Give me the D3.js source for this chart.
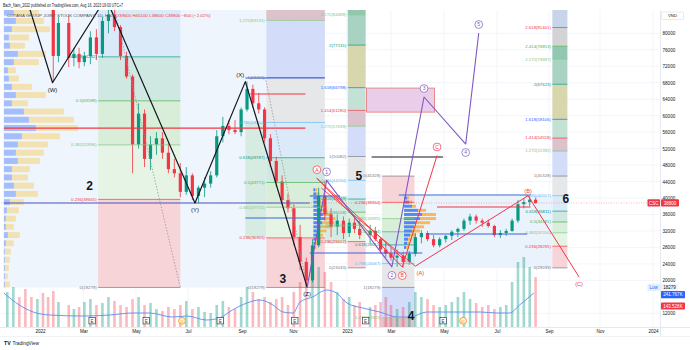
<!DOCTYPE html>
<html><head><meta charset="utf-8">
<script src="https://cdn.jsdelivr.net/npm/d3@7"></script>
<style>body{margin:0;background:#fff;}svg{display:block;font-family:"Liberation Sans",Arial,sans-serif;}</style>
</head><body><svg id="c" width="690" height="350"></svg>
<script>
// ---------------- DATA ----------------
const weekDates = ["2021-11-22","2021-11-29","2021-12-06","2021-12-13","2021-12-20","2021-12-27","2022-01-03","2022-01-10","2022-01-17","2022-01-24","2022-02-07","2022-02-14","2022-02-21","2022-02-28","2022-03-07","2022-03-14","2022-03-21","2022-03-28","2022-04-04","2022-04-11","2022-04-18","2022-04-25","2022-05-02","2022-05-09","2022-05-16","2022-05-23","2022-05-30","2022-06-06","2022-06-13","2022-06-20","2022-06-27","2022-07-04","2022-07-11","2022-07-18","2022-07-25","2022-08-01","2022-08-08","2022-08-15","2022-08-22","2022-08-29","2022-09-05","2022-09-12","2022-09-19","2022-09-26","2022-10-03","2022-10-10","2022-10-17","2022-10-24","2022-10-31","2022-11-07","2022-11-14","2022-11-21","2022-11-28","2022-12-05","2022-12-12","2022-12-19","2022-12-26","2023-01-02","2023-01-09","2023-01-16","2023-01-30","2023-02-06","2023-02-13","2023-02-20","2023-02-27","2023-03-06","2023-03-13","2023-03-20","2023-03-27","2023-04-03","2023-04-10","2023-04-17","2023-04-24","2023-05-01","2023-05-08","2023-05-15","2023-05-22","2023-05-29","2023-06-05","2023-06-12","2023-06-19","2023-06-26","2023-07-03","2023-07-10","2023-07-17","2023-07-24","2023-07-31","2023-08-07","2023-08-14"];
const opens  = [95000,97000,99500,98000,93500,90500,92000,88000,87000,74500,82500,74000,75000,73000,74500,79000,75000,83000,84500,81500,74500,69500,53000,60500,49500,53000,54500,51000,47000,46000,41500,45500,40500,42500,43500,45500,55000,57500,56500,56000,61500,66500,63000,61500,54500,49000,44000,39500,37500,30500,24500,20000,28500,40500,36000,33000,34500,31500,34000,32500,31000,32000,30000,27500,26500,25500,26000,24500,26500,30500,31500,30000,28500,30000,30800,31800,32500,34500,35500,34500,34000,33200,31000,31500,32000,34500,38500,39000,39600];
const highs  = [99000,101000,104000,100000,96000,94000,95000,90000,87500,84000,84500,76500,76500,75500,80500,81000,84000,87000,87500,82000,75500,70000,63000,61500,55000,56000,56000,53300,49500,48500,47500,46000,43000,45000,46500,56500,59700,59000,58900,62000,68300,67500,65500,62000,55500,50000,45500,41000,38500,33500,25500,30000,42500,44294,37500,36000,35500,35000,35500,34500,33500,33000,30500,29500,28000,27500,27000,27200,31500,32200,32000,31000,30500,31000,32200,32800,35000,36200,36000,35000,34800,33500,32200,32500,35000,39500,40000,40557,40100];
const lows   = [92000,94000,96000,92000,88000,87000,86500,86200,68200,73000,71800,72000,71500,72000,72500,73500,74000,80000,80500,73500,69000,46000,52000,47500,46800,50500,49500,46000,45000,40200,40800,39500,38800,40200,42500,45000,53500,55500,55500,55000,61000,62000,60500,53500,47500,42700,38500,36500,28500,22500,18279,19500,28000,34500,30500,31000,30000,30500,31500,30000,29000,29500,26500,25500,24800,23300,23033,23800,25800,29000,29500,28000,28000,29200,29800,30500,32000,33500,33800,33000,32800,30500,30300,30800,31800,34000,37500,38000,38600];
const closes = [97000,99500,98000,93500,90500,92000,88000,87000,74500,82500,74000,75000,73000,74500,79000,75000,83000,84500,81500,74500,69500,53000,60500,49500,53000,54500,51000,47000,46000,41500,45500,40500,42500,43500,45500,55000,57500,56500,56000,61500,66500,63000,61500,54500,49000,44000,39500,37500,30500,24500,20000,28500,40500,36000,33000,34500,31500,34000,32500,31000,32000,30000,27500,26500,25500,26000,24500,26500,30500,31500,30000,28500,30000,30800,31800,32500,34500,35500,34500,34000,33200,31000,31500,32000,34500,38500,39000,39600,38800];
const volumes = [35,40,30,38,30,28,34,30,36,25,22,18,20,25,28,22,24,30,26,22,20,28,30,22,24,18,16,20,18,22,26,18,20,15,14,22,26,20,18,30,40,35,28,30,25,28,30,22,35,45,55,50,60,55,45,35,28,30,22,25,20,22,25,30,22,18,20,25,35,30,28,22,20,22,25,30,35,28,24,20,22,18,20,22,45,65,70,60,50];

const volMaDates = ["2021-11-20","2021-12-08","2021-12-24","2022-01-14","2022-02-28","2022-04-01","2022-04-27","2022-05-17","2022-06-13","2022-06-30","2022-07-22","2022-08-06","2022-08-21","2022-09-07","2022-09-22","2022-10-08","2022-10-20","2022-11-01","2022-11-09","2022-11-23","2022-12-09","2022-12-20","2023-01-01","2023-01-22","2023-02-14","2023-03-08","2023-03-23","2023-04-11","2023-05-08","2023-06-12","2023-07-01","2023-07-16","2023-07-28","2023-08-14"];
const volMaValues = [34,22,15,12,11,12,14,14,10,11,7,9,17,24,27,22,15,14,25,30,37,34,24,19,15,10,10,15,15,15,14,14,22,34];

const xTickDates  = ["2022-01-01","2022-03-01","2022-05-01","2022-07-01","2022-09-01","2022-11-01","2023-01-01","2023-03-01","2023-05-01","2023-07-01","2023-09-01","2023-11-01","2024-01-01"];
const xTickLabels = ["2022","Mar","May","Jul","Sep","Nov","2023","Mar","May","Jul","Sep","Nov","2024"];
const priceTicks  = [12000,20000,24000,28000,32000,36000,40000,44000,48000,52000,56000,60000,64000,68000,72000,76000,80000];

// volume profiles (price rows, up volume, down volume)
const vpLeftPrices = [85000,83000,81000,79000,77000,75000,73000,71000,69000,67000,65000,63000,61000,59000,57000,55000,53000,51000,49000,47000,45000,43000,41000,39000,37000,35000,33000,31000,29000,27000,25000,23000,21000,19000];
const vpLeftUp   = [10,12,8,5,6,14,10,4,5,8,12,8,20,25,32,18,14,12,14,8,8,10,12,6,3,2,2,4,2,1,1,1,1,1];
const vpLeftDown = [25,28,38,20,15,28,25,8,10,20,30,16,40,45,42,38,30,28,22,18,16,20,22,14,12,10,8,12,8,6,5,4,3,5];
const vpDecPrices = [42000,41000,40000,39000,38000,37000,36000,35000,34000,33000,32000,31000,30000,29000,28000];
const vpDecUp   = [2,3,4,4,5,8,10,12,9,7,5,4,3,2,1];
const vpDecDown = [2,3,3,4,5,6,8,10,12,10,8,6,4,3,2];
const vpMarPrices = [40000,39000,38000,37000,36000,35000,34000,33000,32000,31000,30000,29000,28000];
const vpMarUp   = [3,5,8,14,18,16,12,10,8,6,4,3,2];
const vpMarDown = [2,3,4,8,14,16,14,10,8,6,4,3,3];

// Fibonacci drawings
const fibStart = ["2022-03-18","2022-09-30","2023-02-17","2023-01-02","2023-09-05"];
const fibEnd   = ["2022-06-22","2022-12-07","2023-03-28","2023-01-26","2023-09-23"];
const fibP0    = [18279,18279,45328,23033,23033];
const fibP1    = [108899,69263,18279,50082,45328];
const fibLevels = [
  [0,0.236,0.382,0.5,0.618,0.786],
  [0,0.236,0.382,0.5,0.618,0.786,1,1.272,1.414],
  [0,0.236,0.382,0.5,0.618,0.786,1,1.272,1.414],
  [0,0.236,0.382,0.5,0.618,0.786,1,1.272,1.414,1.618,2,2.272,2.414],
  [0,0.236,0.382,0.5,0.618,0.786,1,1.272,1.414,1.618,2,2.272,2.414,2.618,3.618]
];

// plain shaded rectangles
const rectStart = ["2021-11-20","2022-09-05","2022-11-29","2023-03-10","2023-01-27"];
const rectEnd   = ["2022-09-30","2022-09-30","2023-01-02","2023-09-05","2023-04-20"];
const rectTop   = [90000,58352,40500,40557,66700];
const rectBot   = [18279,30311,29000,23033,60860];
const rectKind  = ["pale","teal","teal","pale2","violet"];

// horizontal trend lines
const hlStart = ["2021-11-20","2021-11-20","2022-09-11","2022-09-05","2022-09-05","2022-11-20","2022-11-20","2023-04-11","2023-03-10","2023-04-23","2023-02-03"];
const hlEnd   = ["2022-11-20","2022-11-15","2022-11-15","2022-12-07","2022-11-28","2022-12-24","2023-04-06","2023-08-06","2023-08-10","2023-08-10","2023-04-30"];
const hlPrice = [38780,56980,65250,69140,35130,40490,26630,31250,40720,37810,49950];
const hlKind  = ["blue","red","red","blue","blue","blue","blue","blue","blue","red","black"];

// Elliott wave paths
const wxyDates  = ["2021-12-16","2022-01-18","2022-03-27","2022-07-09","2022-09-05","2022-11-17"];
const wxyPrices = [88700,68000,88600,38780,68262,18279];
const wxyLabels = ["","(W)","","(Y)","(X)","(Z)"];
const impDates  = ["2022-11-17","2022-12-09","2023-03-02","2023-04-08","2023-05-26","2023-06-10"];
const impPrices = [18279,44294,23280,64530,53110,80070];
const impLabels = ["","1","2","3","4","5"];
const abcDates  = ["2022-11-28","2023-03-14","2023-04-23"];
const abcPrices = [44800,23230,50330];
const abcLabels = ["A","B","C"];
const bigAbcDates  = ["2023-03-29","2023-08-07","2023-10-07"];
const bigAbcPrices = [23450,40560,20800];
const bigAbcLabels = ["(A)","(B)","(C)"];
const chanStart = ["2022-11-28","2022-12-03"];
const chanStartP = [44800,42420];
const chanEnd = ["2023-03-19","2023-03-29"];
const chanEndP = [24440,23450];
const dashStart = ["2022-04-04","2022-09-29"];
const dashStartP = [87550,69263];
const dashEnd = ["2022-06-22","2022-11-17"];
const dashEndP = [18279,18279];

// big wave count numbers
const bigNumText  = ["2","3","4","5","6"];
const bigNumDates = ["2022-03-08","2022-10-20","2023-03-24","2023-01-17","2023-09-21"];
const bigNumPrices = [43150,20560,11575,45580,40000];

// events
const earningsDates = ["2022-03-11","2022-05-13","2022-08-07","2022-11-03","2023-01-26","2023-04-30"];
const dividendDates = ["2022-06-24","2023-05-23"];

// ---------------- CHART ----------------
const W = 690, H = 350, PL = 1, PR = 660, PT = 10, PB = 327;
const parse = d3.utcParse("%Y-%m-%d");
const x = d3.scaleUtc()
  .domain(["2021-11-01", ...xTickDates].map(parse))
  .range([-12.5, 40, 83.5, 136, 188, 242, 293, 347, 391, 444, 497, 549, 600, 653]);
const y = d3.scaleLinear().domain([12000, 80000]).range([313.3, 33.3]);
const vy = d3.scaleLinear().domain([0, 100]).range([PB, PB - 100]);
const vpw = d3.scaleLinear().domain([0, 100]).range([0, 100]);
const X = s => x(parse(s));

const UP = "#089981", DN = "#f23645";
const bandColor = {0.236:"#f7d4d8",0.382:"#e6f4e5",0.5:"#d8eed8",0.618:"#cfe8e1",0.786:"#dbeaf9",1:"#e6e7e9",1.272:"#d3ddfa",1.414:"#dcc2cc",1.618:"#c3e2d5",2:"#d7d6ad",2.272:"#a8d3c2",2.414:"#92c7b1",2.618:"#d3d3d5",3.618:"#c8d4e7"};
const lineColor = {0:"#787b86",0.236:"#f23645",0.382:"#81c784",0.5:"#4caf50",0.618:"#089981",0.786:"#64b5f6",1:"#787b86",1.272:"#81c784",1.414:"#f23645",1.618:"#2962ff",2:"#089981",2.272:"#81c784",2.414:"#4caf50",2.618:"#f23645",3.618:"#9c27b0"};
const rectColor = {pale:"#eef5fc",pale2:"#eaf2fb",teal:"#d6ece3",violet:"#e9cde9"};
const hlColor = {blue:"#3a62d6",red:"#f23645",black:"#131722"};

const svg = d3.select("#c");
svg.append("rect").attr("width", W).attr("height", H).attr("fill", "#fff");
svg.append("defs").append("clipPath").attr("id", "clip")
  .append("rect").attr("x", PL).attr("y", PT).attr("width", PR - PL).attr("height", PB - PT);
const g = svg.append("g").attr("clip-path", "url(#clip)");

// grid
priceTicks.forEach(v => g.append("line").attr("x1", PL).attr("x2", PR).attr("y1", y(v)).attr("y2", y(v)).attr("stroke", "#f0f3fa").attr("stroke-width", 0.8));
xTickDates.forEach(d => g.append("line").attr("x1", X(d)).attr("x2", X(d)).attr("y1", PT).attr("y2", PB).attr("stroke", "#f0f3fa").attr("stroke-width", 0.8));

// shaded rects
rectStart.forEach((s, i) => {
  g.append("rect").attr("x", X(s)).attr("width", X(rectEnd[i]) - X(s))
    .attr("y", y(rectTop[i])).attr("height", y(rectBot[i]) - y(rectTop[i]))
    .attr("fill", rectColor[rectKind[i]])
    .attr("stroke", rectKind[i] === "violet" ? "#e57373" : "none").attr("stroke-width", 0.8);
});

// fib bands
const fibPrice = (i, l) => fibP0[i] + l * (fibP1[i] - fibP0[i]);
fibStart.forEach((s, i) => {
  const x1 = X(s), x2 = X(fibEnd[i]), L = fibLevels[i];
  for (let k = 1; k < L.length; k++) {
    const a = y(fibPrice(i, L[k - 1])), b = y(fibPrice(i, L[k]));
    g.append("rect").attr("x", x1).attr("width", x2 - x1)
      .attr("y", Math.min(a, b)).attr("height", Math.abs(b - a)).attr("fill", bandColor[L[k]]);
  }
});

// volume profiles
function drawVP(anchor, prices, up, down, step, upC, dnC) {
  const x0 = X(anchor);
  const h = Math.abs(y(0) - y(step)) * 0.72;
  prices.forEach((p, i) => {
    g.append("rect").attr("x", x0).attr("y", y(p) - h / 2).attr("width", vpw(up[i])).attr("height", h).attr("fill", upC);
    g.append("rect").attr("x", x0 + vpw(up[i])).attr("y", y(p) - h / 2).attr("width", vpw(down[i])).attr("height", h).attr("fill", dnC);
  });
}
drawVP("2021-11-20", vpLeftPrices, vpLeftUp, vpLeftDown, 2000, "rgba(41,98,255,0.38)", "rgba(251,192,45,0.36)");
drawVP("2022-11-24", vpDecPrices, vpDecUp, vpDecDown, 1000, "rgba(41,98,255,0.75)", "rgba(251,160,30,0.7)");
drawVP("2023-03-16", vpMarPrices, vpMarUp, vpMarDown, 1000, "rgba(41,98,255,0.75)", "rgba(251,160,30,0.7)");

// volume bars
const bw = 3.2, vbw = 2.6;
weekDates.forEach((d, i) => {
  const cx = x(d3.utcDay.offset(parse(d), 2));
  g.append("rect").attr("x", cx - vbw / 2).attr("width", vbw).attr("y", vy(volumes[i])).attr("height", vy(0) - vy(volumes[i]))
    .attr("fill", closes[i] >= opens[i] ? "rgba(8,153,129,0.38)" : "rgba(242,54,69,0.34)");
});
g.append("path").datum(volMaDates.map((d, i) => [X(d), vy(volMaValues[i])]))
  .attr("d", d3.line().curve(d3.curveMonotoneX)).attr("fill", "none").attr("stroke", "#5b8def").attr("stroke-width", 0.9);

// candles
weekDates.forEach((d, i) => {
  const cx = x(d3.utcDay.offset(parse(d), 2));
  const c = closes[i] >= opens[i] ? UP : DN;
  g.append("line").attr("x1", cx).attr("x2", cx).attr("y1", y(highs[i])).attr("y2", y(lows[i])).attr("stroke", c).attr("stroke-width", 0.8);
  const t = y(Math.max(opens[i], closes[i])), b = y(Math.min(opens[i], closes[i]));
  g.append("rect").attr("x", cx - bw / 2).attr("width", bw).attr("y", t).attr("height", Math.max(0.8, b - t)).attr("fill", c);
});

// fib level lines + labels
fibStart.forEach((s, i) => {
  const x1 = X(s), x2 = X(fibEnd[i]);
  fibLevels[i].forEach(l => {
    const p = fibPrice(i, l), yy = y(p);
    g.append("line").attr("x1", x1).attr("x2", x2).attr("y1", yy).attr("y2", yy).attr("stroke", lineColor[l]).attr("stroke-width", 0.7);
    if (yy > PT + 3 && yy < PB - 2)
      g.append("text").attr("x", x1 - 1.5).attr("y", yy + 1.4).attr("text-anchor", "end").attr("font-size", 4.3)
        .attr("fill", lineColor[l]).text(`${l}(${Math.round(p)})`);
  });
});

// horizontal lines
hlStart.forEach((s, i) => {
  g.append("line").attr("x1", X(s)).attr("x2", X(hlEnd[i])).attr("y1", y(hlPrice[i])).attr("y2", y(hlPrice[i]))
    .attr("stroke", hlColor[hlKind[i]]).attr("stroke-width", hlKind[i] === "red" && i === 1 ? 1.3 : 1.1);
});
// last price line
g.append("line").attr("x1", PL).attr("x2", PR).attr("y1", y(closes[closes.length - 1])).attr("y2", y(closes[closes.length - 1]))
  .attr("stroke", "#f23645").attr("stroke-opacity", 0.45).attr("stroke-dasharray", "1,1.5").attr("stroke-width", 0.8);

// dashed fib trend lines
dashStart.forEach((s, i) => {
  g.append("line").attr("x1", X(s)).attr("y1", y(dashStartP[i])).attr("x2", X(dashEnd[i])).attr("y2", y(dashEndP[i]))
    .attr("stroke", "#9598a1").attr("stroke-width", 0.8).attr("stroke-dasharray", "1.5,1.5");
});

// red channel lines
chanStart.forEach((s, i) => {
  g.append("line").attr("x1", X(s)).attr("y1", y(chanStartP[i])).attr("x2", X(chanEnd[i])).attr("y2", y(chanEndP[i]))
    .attr("stroke", "#f23645").attr("stroke-width", 0.9);
});

const line = d3.line();
function wave(dates, prices, color, width) {
  g.append("path").datum(dates.map((d, i) => [X(d), y(prices[i])])).attr("d", line)
    .attr("fill", "none").attr("stroke", color).attr("stroke-width", width).attr("stroke-linejoin", "round");
}
function sideOf(prices, i) {
  const prev = prices[i - 1], next = prices[i + 1];
  if (next === undefined) return prices[i] > prev ? -1 : 1;
  if (prev === undefined) return prices[i] > next ? -1 : 1;
  return prices[i] > prev ? -1 : 1;
}
wave(wxyDates, wxyPrices, "#131722", 1.2);
wave(impDates, impPrices, "#7e57c2", 1.1);
wave(abcDates, abcPrices, "#f23645", 1);
wave(bigAbcDates, bigAbcPrices, "#f23645", 1);

// wave labels
wxyLabels.forEach((t, i) => {
  if (!t) return;
  const s = sideOf(wxyPrices, i);
  g.append("text").attr("x", X(wxyDates[i]) + (t === "(X)" ? -5 : 0)).attr("y", y(wxyPrices[i]) + (s > 0 ? 9 : -4.5))
    .attr("text-anchor", "middle").attr("font-size", 6).attr("fill", "#131722").text(t);
});
function circ(cx, cy, t, color) {
  g.append("circle").attr("cx", cx).attr("cy", cy).attr("r", 3.9).attr("fill", "#fff").attr("stroke", color).attr("stroke-width", 0.7);
  g.append("text").attr("x", cx).attr("y", cy + 1.8).attr("text-anchor", "middle").attr("font-size", 5).attr("fill", color).text(t);
}
impLabels.forEach((t, i) => {
  if (!t) return;
  const s = sideOf(impPrices, i);
  circ(X(impDates[i]), y(impPrices[i]) + s * 8.5, t, "#7e57c2");
});
abcLabels.forEach((t, i) => {
  const s = sideOf(abcPrices, i);
  circ(X(abcDates[i]), y(abcPrices[i]) + s * 8.5, t, "#f23645");
});
bigAbcLabels.forEach((t, i) => {
  const s = sideOf(bigAbcPrices, i);
  g.append("text").attr("x", X(bigAbcDates[i]) + (i === 0 ? 5 : 0)).attr("y", y(bigAbcPrices[i]) + (s > 0 ? 8.5 : -3))
    .attr("text-anchor", "middle").attr("font-size", 5.6).attr("fill", "#f23645").text(t);
});

// big numbers
bigNumText.forEach((t, i) => {
  g.append("text").attr("x", X(bigNumDates[i])).attr("y", y(bigNumPrices[i]) + 4.5).attr("text-anchor", "middle")
    .attr("font-size", 12).attr("font-weight", "bold").attr("fill", "#131722").text(t);
});

// event markers
earningsDates.forEach(d => {
  const cx = X(d);
  g.append("rect").attr("x", cx - 3.2).attr("y", 317.5).attr("width", 6.4).attr("height", 6.4).attr("fill", "#fff").attr("stroke", "#3b3f4a").attr("stroke-width", 0.7);
  g.append("text").attr("x", cx).attr("y", 322.6).attr("text-anchor", "middle").attr("font-size", 4.6).attr("fill", "#3b3f4a").text("E");
});
dividendDates.forEach(d => {
  const cx = X(d);
  g.append("circle").attr("cx", cx).attr("cy", 320.8).attr("r", 3.4).attr("fill", "#fff3e0").attr("stroke", "#ff9800").attr("stroke-width", 0.9);
  g.append("text").attr("x", cx).attr("y", 322.6).attr("text-anchor", "middle").attr("font-size", 4.4).attr("fill", "#ff9800").text("D");
});

// ---------------- AXES ----------------
svg.append("rect").attr("x", PR).attr("y", 0).attr("width", W - PR).attr("height", H).attr("fill", "#fff");
svg.append("rect").attr("x", 0).attr("y", PB).attr("width", W).attr("height", H - PB).attr("fill", "#fff");
svg.append("line").attr("x1", PR + 0.5).attr("x2", PR + 0.5).attr("y1", PT).attr("y2", 337).attr("stroke", "#e0e3eb").attr("stroke-width", 0.8);
svg.append("line").attr("x1", 0).attr("x2", W).attr("y1", PB + 0.5).attr("y2", PB + 0.5).attr("stroke", "#e0e3eb").attr("stroke-width", 0.8);
svg.append("line").attr("x1", 0).attr("x2", W).attr("y1", 336.5).attr("y2", 336.5).attr("stroke", "#eef0f4").attr("stroke-width", 0.8);

const yAxis = d3.axisRight(y).tickValues(priceTicks).tickSize(0).tickPadding(2.5).tickFormat(d3.format("d"));
const ya = svg.append("g").attr("transform", `translate(${PR},0)`).call(yAxis);
ya.select(".domain").remove();
ya.selectAll("text").attr("font-size", 4.6).attr("fill", "#131722").attr("font-family", "Liberation Sans, Arial, sans-serif");

const xAxis = d3.axisBottom(x).tickValues(xTickDates.map(parse)).tickSize(0).tickPadding(3)
  .tickFormat((d, i) => xTickLabels[i]);
const xa = svg.append("g").attr("transform", `translate(0,${PB})`).call(xAxis);
xa.select(".domain").remove();
xa.selectAll("text").attr("font-size", 4.6).attr("fill", "#131722").attr("font-family", "Liberation Sans, Arial, sans-serif");

// right-axis tags
function tag(x0, yc, w, fill, txt, color, stroke) {
  svg.append("rect").attr("x", x0).attr("y", yc - 3.6).attr("width", w).attr("height", 7.2).attr("rx", 0.8).attr("fill", fill).attr("stroke", stroke || "none").attr("stroke-width", 0.5);
  svg.append("text").attr("x", x0 + w / 2).attr("y", yc + 1.6).attr("text-anchor", "middle").attr("font-size", 4.5).attr("fill", color).text(txt);
}
const lastClose = closes[closes.length - 1];
tag(647.5, y(lastClose), 12.5, "#f23645", "CSC", "#fff");
tag(661, y(lastClose), 18, "#f23645", d3.format("d")(lastClose), "#fff");
const minLow = d3.min(lows);
tag(647.5, y(minLow), 12.5, "#e3effd", "Low", "#2962ff");
tag(661, y(minLow), 17, "#eef4fd", d3.format("d")(minLow), "#131722");
tag(661, 294.6, 24, "#2962ff", "241.767K", "#fff");
tag(661, 306, 24, "#f23645", "143.528K", "#fff");
svg.append("rect").attr("x", 661.5).attr("y", 12).attr("width", 22).attr("height", 7.5).attr("fill", "#fff").attr("stroke", "#d1d4dc").attr("stroke-width", 0.5).attr("rx", 1);
svg.append("text").attr("x", 672.5).attr("y", 17.4).attr("text-anchor", "middle").attr("font-size", 4.3).attr("fill", "#131722").text("VND");

// header
svg.append("text").attr("x", 3).attr("y", 6.6).attr("font-size", 4.6).attr("fill", "#131722")
  .attr("textLength", 120).attr("lengthAdjust", "spacingAndGlyphs")
  .text("Bach_Nam_2022 published on TradingView.com, Aug 16, 2023 19:00 UTC+7");
const h2 = svg.append("text").attr("x", 7).attr("y", 17.3).attr("font-size", 4.4);
h2.append("tspan").attr("fill", "#50535e").text("COTANA GROUP JOINT STOCK COMPANY, 1D, HNX ");
h2.append("tspan").attr("fill", "#f23645").text(" O39600  H40100  L38600  C38800  −800 (−2.02%)");

// footer logo
svg.append("text").attr("x", 4).attr("y", 345).attr("font-size", 5.2).attr("font-weight", "bold").attr("fill", "#131722").text("TV");
svg.append("text").attr("x", 12.5).attr("y", 345).attr("font-size", 4.8).attr("fill", "#131722").text("TradingView");
</script></body></html>
